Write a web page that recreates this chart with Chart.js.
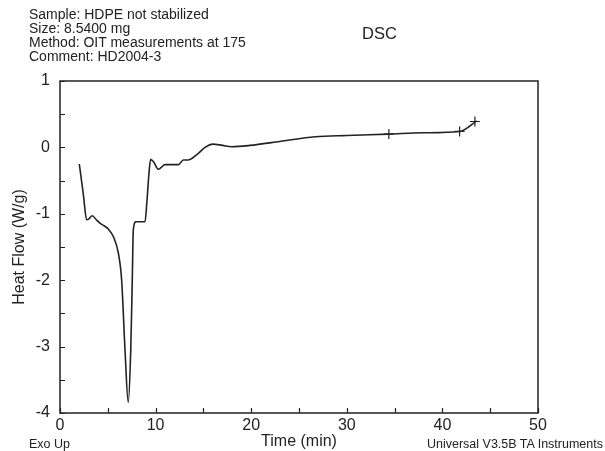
<!DOCTYPE html>
<html>
<head>
<meta charset="utf-8">
<script src="https://cdn.jsdelivr.net/npm/chart.js@4/dist/chart.umd.min.js"></script>
<style>
    html, body { margin: 0; padding: 0; background: #fff; }
    #wrap { position: relative; width: 605px; height: 451px; font-family: "Liberation Sans", Arial, sans-serif; color: #222; }
    #wrap canvas { position: absolute; left: 0; top: 0; }
    .note { position: absolute; font-size: 12.5px; line-height: 14px; white-space: nowrap; }
</style>
</head>
<body>
<div id="wrap">
    <canvas id="chart" width="605" height="451"></canvas>
    <div class="note" style="left:29px; top:7px; font-size:14px; line-height:14px;">Sample: HDPE not stabilized<br>Size: 8.5400 mg<br>Method: OIT measurements at 175<br>Comment: HD2004-3</div>
    <div class="note" style="left:362px; top:24px; font-size:16.5px; line-height:18px;">DSC</div>
    <div class="note" style="left:29px; top:437px;">Exo Up</div>
    <div class="note" style="right:2px; top:437px;">Universal V3.5B TA Instruments</div>
</div>
<script>
// DSC trace
var timeMin = [2.02, 2.45, 2.79, 3.0, 3.38, 3.8, 4.18, 4.6, 5.05, 5.6, 6.1, 6.45, 6.8, 7.14, 7.4, 7.56, 7.67, 7.95, 8.5, 8.89, 9.1, 9.3, 9.48, 9.8, 10.29, 10.98, 12.38, 12.9, 13.4, 14.3, 15.17, 16.0, 17.0, 17.96, 19.87, 23.0, 26.7, 30.0, 34.4, 38.0, 41.8, 43.6];
var heatFlow = [-0.25, -0.72, -1.09, -1.08, -1.03, -1.09, -1.14, -1.18, -1.23, -1.35, -1.59, -2.0, -3.05, -3.84, -3.05, -2.0, -1.24, -1.12, -1.12, -1.12, -0.8, -0.4, -0.18, -0.22, -0.33, -0.26, -0.26, -0.19, -0.19, -0.11, 0.0, 0.05, 0.03, 0.01, 0.03, 0.09, 0.16, 0.18, 0.20, 0.22, 0.24, 0.40];

// little cross marks on the trace
var markTime = [34.4, 41.8, 43.4];
var markHeat = [0.20, 0.24, 0.39];

var xTicks = [0, 10, 20, 30, 40, 50];
var yTicks = [1, 0, -1, -2, -3, -4];

var ink = "#222";
var font = { family: "'Liberation Sans', Arial, sans-serif", size: 16 };

/** frame round the plot and inward tick marks */
var framePlugin = {
    id: "frame",
    afterDraw: function(chart) {
        var ctx = chart.ctx, a = chart.chartArea;
        var x = chart.scales.x, y = chart.scales.y;
        ctx.save();
        ctx.strokeStyle = ink;
        ctx.lineWidth = 1.5;
        ctx.strokeRect(a.left, a.top, a.right - a.left, a.bottom - a.top);
        ctx.lineWidth = 1.2;
        ctx.beginPath();
        x.ticks.forEach(function(t) {
            var px = Math.round(x.getPixelForValue(t.value)) + 0.5;
            ctx.moveTo(px, a.bottom);
            ctx.lineTo(px, a.bottom - 5);
        });
        y.ticks.forEach(function(t) {
            var py = Math.round(y.getPixelForValue(t.value)) + 0.5;
            ctx.moveTo(a.left, py);
            ctx.lineTo(a.left + 5, py);
        });
        ctx.stroke();
        ctx.restore();
    }
};

var trace = timeMin.map(function(t, i) { return { x: t, y: heatFlow[i] }; });
var marks = markTime.map(function(t, i) { return { x: t, y: markHeat[i] }; });

new Chart(document.getElementById("chart"), {
    type: "line",
    data: {
        datasets: [
            {
                data: trace,
                borderColor: ink,
                borderWidth: 1.6,
                pointRadius: 0,
                cubicInterpolationMode: "monotone",
                fill: false
            },
            {
                type: "scatter",
                data: marks,
                pointStyle: "cross",
                pointRadius: 5,
                borderColor: ink,
                borderWidth: 1.2,
                showLine: false
            }
        ]
    },
    options: {
        responsive: false,
        animation: false,
        layout: { padding: { top: 81, right: 67, left: 0, bottom: 0 } },
        plugins: { legend: { display: false }, tooltip: { enabled: false } },
        scales: {
            x: {
                type: "linear",
                min: 0,
                max: 50,
                border: { display: false },
                grid: { drawOnChartArea: false, drawTicks: false },
                ticks: {
                    stepSize: 5,
                    color: ink,
                    font: font,
                    padding: 3,
                    maxRotation: 0,
                    callback: function(v) { return xTicks.indexOf(v) >= 0 ? String(v) : ""; }
                },
                title: { display: true, text: "Time (min)", color: ink, font: font, padding: { top: -4, bottom: 0 } },
                afterFit: function(s) { s.height = 38; }
            },
            y: {
                min: -4,
                max: 1,
                border: { display: false },
                grid: { drawOnChartArea: false, drawTicks: false },
                ticks: {
                    stepSize: 0.5,
                    color: ink,
                    font: font,
                    padding: 10,
                    callback: function(v) { return yTicks.indexOf(v) >= 0 ? String(v) : ""; }
                },
                title: { display: true, text: "Heat Flow (W/g)", color: ink, font: font, padding: { top: 10, bottom: 0 } },
                afterFit: function(s) { s.width = 60; }
            }
        }
    },
    plugins: [framePlugin]
});
</script>
</body>
</html>
